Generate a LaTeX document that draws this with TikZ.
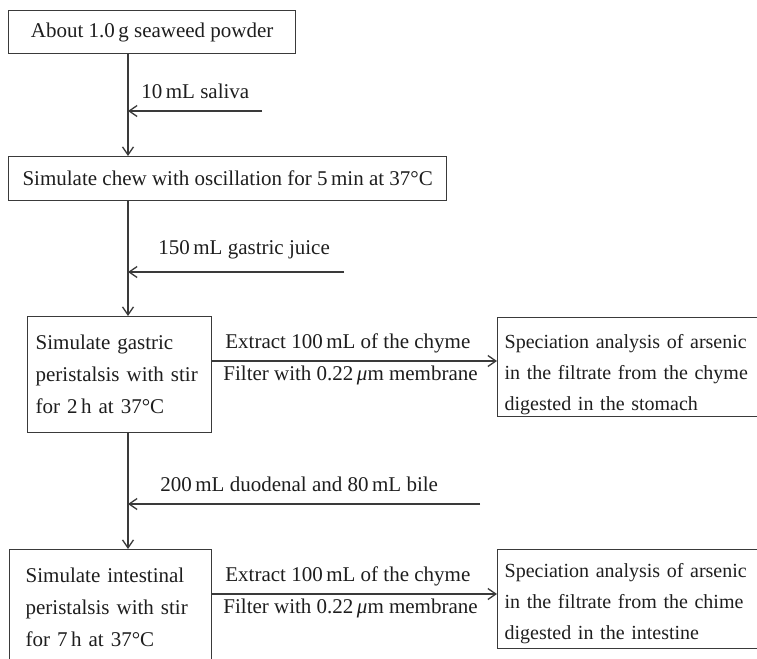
\documentclass[tikz,border=0pt]{standalone}
\usepackage{fontspec}
\setmainfont{Liberation Serif}
\usetikzlibrary{arrows.meta}
\definecolor{ln}{HTML}{3A3A3A}
\definecolor{tx}{HTML}{1E1E1E}
\newcommand{\lowerbox}[2]{\raisebox{-#1}[\height][\depth]{\begin{tabular}{@{}l@{}}#2\end{tabular}}}
\begin{document}
\begin{tikzpicture}[x=0.5pt,y=-0.5pt,
  every node/.style={font=\fontsize{10.5pt}{16pt}\selectfont, text=tx},
  box/.style={draw=ln, line width=0.65pt, inner ysep=0pt, anchor=north west},
  resbox/.style={box, minimum width=150pt, minimum height=49.5pt, text width=143pt, inner xsep=3.5pt, align=left, font=\fontsize{10pt}{15.5pt}\selectfont},
  flow/.style={draw=ln, line width=0.65pt, -{Straight Barb[length=4pt,width=5.5pt]}},
  lab/.style={anchor=west, inner sep=0pt}]
\useasboundingbox (0,0) rectangle (757,659);
\clip (0,0) rectangle (757,659);
\fill[white] (0,0) rectangle (757,659);

\node[box, minimum width=143.5pt, minimum height=21.5pt, inner xsep=0pt] (b1) at (8,10) {About 1.0\,g seaweed powder};
\node[box, minimum width=219pt, minimum height=22pt, inner xsep=0pt] (b2) at (8,156) {Simulate chew with oscillation for 5\,min at 37°C};
\node[box, minimum width=92pt, minimum height=58pt, text width=84pt, inner xsep=4pt, align=left] (b3) at (27,316) {Simulate gastric\\peristalsis with stir\\for 2\,h at 37°C};
\node[resbox] (b4) at (497,317) {\lowerbox{3pt}{Speciation analysis of arsenic\\in the filtrate from the chyme\\digested in the stomach}};
\node[box, minimum width=101pt, minimum height=58pt, text width=85pt, inner xsep=8pt, align=left] (b5) at (9,549) {Simulate intestinal\\peristalsis with stir\\for 7\,h at 37°C};
\node[resbox] (b6) at (497,549) {\lowerbox{1.5pt}{Speciation analysis of arsenic\\in the filtrate from the chime\\digested in the intestine}};

\coordinate (L) at (128,0);
\draw[flow] (b1.south -| L) -- (b2.north -| L);
\coordinate (s1) at (262,111);
\draw[flow] (s1) -- (s1 -| L);
\node[lab] (t1) at (141,91) {10\,mL saliva};

\draw[flow] (b2.south -| L) -- (b3.north -| L);
\coordinate (s2) at (344,272);
\draw[flow] (s2) -- (s2 -| L);
\node[lab] (t2) at (158,250) {150\,mL gastric juice};

\draw[flow] (b3.south -| L) -- (b5.north -| L);
\coordinate (s3) at (480,504);
\draw[flow] (s3) -- (s3 -| L);
\node[lab] (t3) at (160,484) {200\,mL duodenal and 80\,mL bile};

\coordinate (h1) at (0,361);
\draw[flow] (b3.east |- h1) -- (b4.west |- h1);
\node[lab] (e1) at (225,343) {Extract 100\,mL of the chyme};
\node[lab] (f1) at (223,375) {Filter with 0.22\,\textit{μ}m membrane};

\coordinate (h2) at (0,594);
\draw[flow] (b5.east |- h2) -- (b6.west |- h2);
\node[lab] (e2) at (225,576) {Extract 100\,mL of the chyme};
\node[lab] (f2) at (223,608) {Filter with 0.22\,\textit{μ}m membrane};
\end{tikzpicture}
\end{document}
